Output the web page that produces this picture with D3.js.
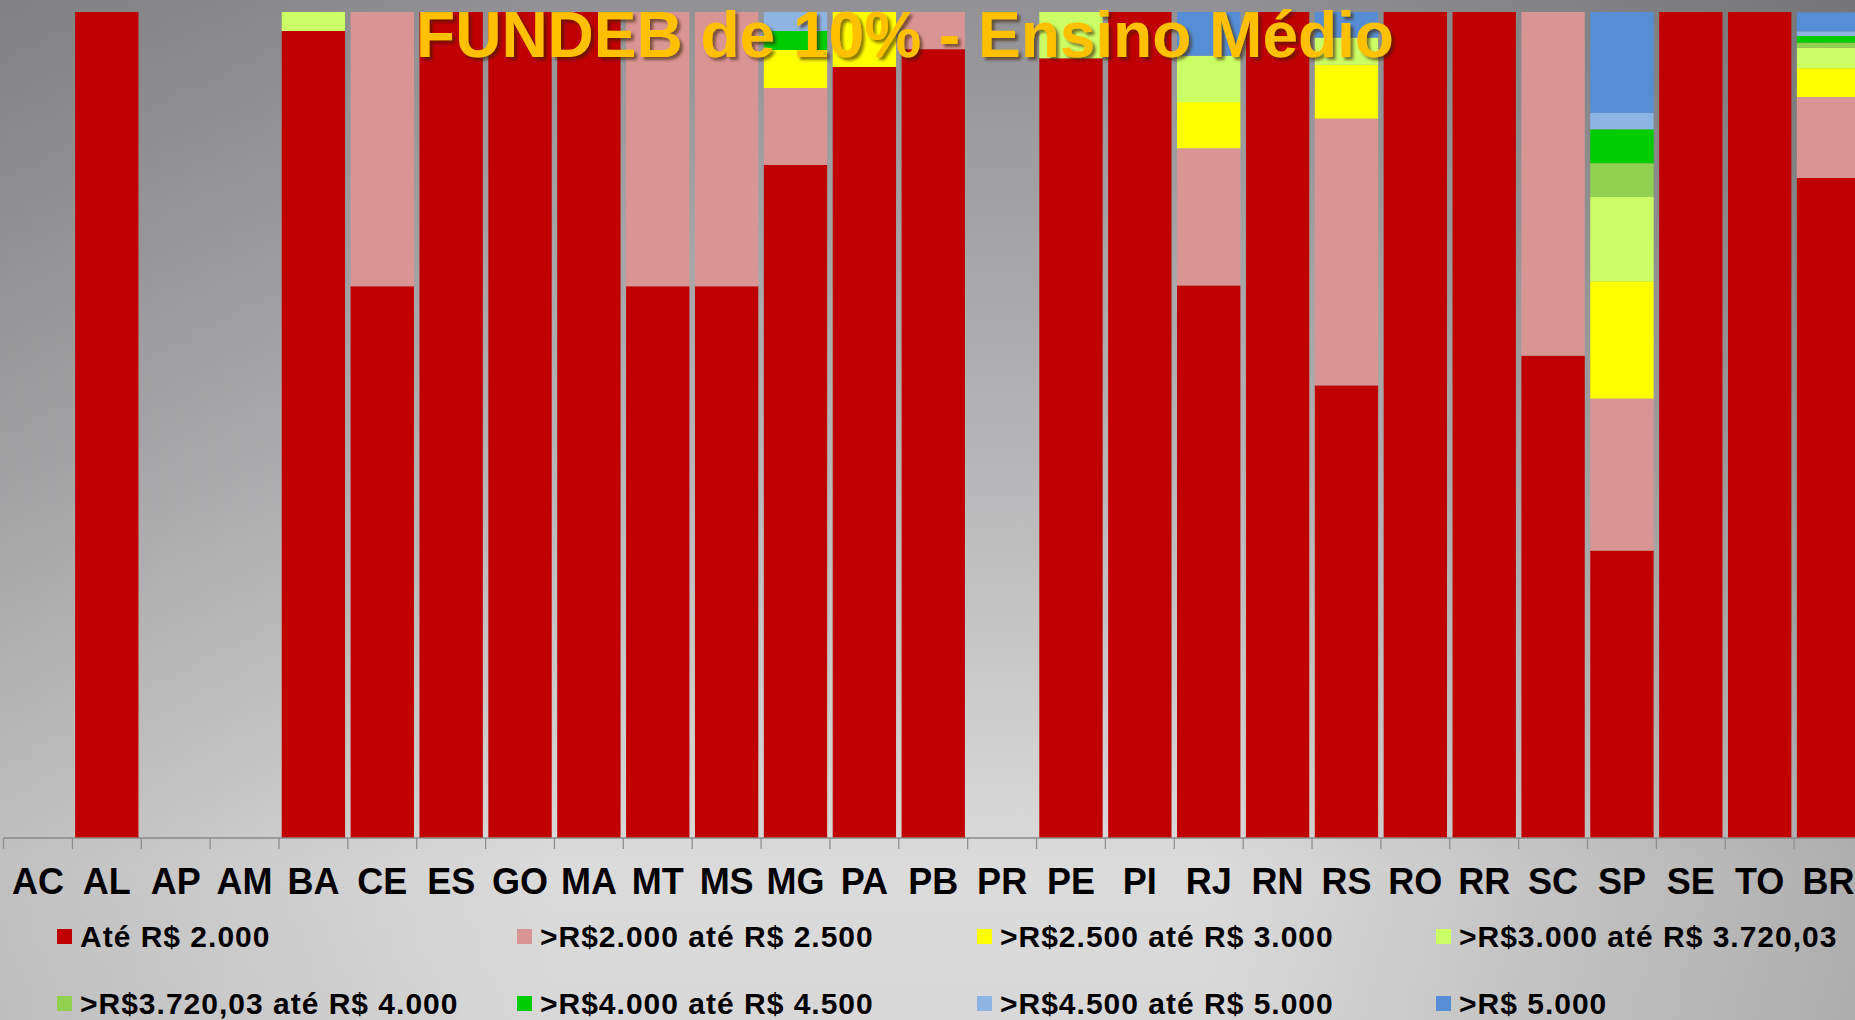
<!DOCTYPE html>
<html>
<head>
<meta charset="utf-8">
<script src="https://cdn.jsdelivr.net/npm/d3@7"></script>
<style>
  html, body { margin: 0; padding: 0; overflow: hidden; }
  body { width: 1855px; height: 1020px; }
  svg { display: block; font-family: "Liberation Sans", Arial, sans-serif; }
</style>
</head>
<body>
<div id="chart"></div>
<script>
// states + Brasil
const categories = ["AC", "AL", "AP", "AM", "BA", "CE", "ES", "GO", "MA", "MT", "MS", "MG", "PA", "PB",
  "PR", "PE", "PI", "RJ", "RN", "RS", "RO", "RR", "SC", "SP", "SE", "TO", "BR"];

// share of each salary band (%)
const ate2000   = [0, 100, 0, 0, 97.7, 66.8, 100, 100, 100, 66.8, 66.8, 81.5, 93.35, 95.5, 0, 94.4, 100, 66.9, 100, 54.8, 100, 100, 58.4, 34.8, 100, 100, 79.9];
const de2000    = [0, 0, 0, 0, 0, 33.2, 0, 0, 0, 33.2, 33.2, 9.3, 0, 4.5, 0, 0, 0, 16.6, 0, 32.3, 0, 0, 41.6, 18.4, 0, 0, 9.8];
const de2500    = [0, 0, 0, 0, 0, 0, 0, 0, 0, 0, 0, 4.6, 6.65, 0, 0, 0, 0, 5.6, 0, 6.5, 0, 0, 0, 14.2, 0, 0, 3.5];
const de3000    = [0, 0, 0, 0, 2.3, 0, 0, 0, 0, 0, 0, 0, 0, 0, 0, 5.6, 0, 5.6, 0, 3.3, 0, 0, 0, 10.2, 0, 0, 2.5];
const de3720    = [0, 0, 0, 0, 0, 0, 0, 0, 0, 0, 0, 0, 0, 0, 0, 0, 0, 0, 0, 0, 0, 0, 0, 4.1, 0, 0, 0.6];
const de4000    = [0, 0, 0, 0, 0, 0, 0, 0, 0, 0, 0, 2.3, 0, 0, 0, 0, 0, 0, 0, 0, 0, 0, 0, 4.1, 0, 0, 0.8];
const de4500    = [0, 0, 0, 0, 0, 0, 0, 0, 0, 0, 0, 2.3, 0, 0, 0, 0, 0, 0, 0, 0, 0, 0, 0, 2.0, 0, 0, 0.56];
const acima5000 = [0, 0, 0, 0, 0, 0, 0, 0, 0, 0, 0, 0, 0, 0, 0, 0, 0, 5.3, 0, 3.1, 0, 0, 0, 12.2, 0, 0, 2.3];

const seriesLabels = ["Até R$ 2.000", ">R$2.000 até R$ 2.500", ">R$2.500 até R$ 3.000", ">R$3.000 até R$ 3.720,03",
  ">R$3.720,03 até R$ 4.000", ">R$4.000 até R$ 4.500", ">R$4.500 até R$ 5.000", ">R$ 5.000"];
const seriesColors = ["#C00000", "#D99594", "#FFFF00", "#CCFF66", "#92D050", "#00CC00", "#8EB4E3", "#558ED5"];
const seriesValues = [ate2000, de2000, de2500, de3000, de3720, de4000, de4500, acima5000];

const width = 1855;
const height = 1020;

const table = categories.map((c, i) => {
  const row = { cat: c };
  seriesValues.forEach((vals, k) => { row["s" + k] = vals[i]; });
  return row;
});
const keys = seriesValues.map((_, k) => "s" + k);
const stacked = d3.stack().keys(keys)(table);

const x = d3.scaleBand()
  .domain(categories)
  .range([3.5, 3.5 + 27 * 68.87])
  .paddingInner(0.08)
  .paddingOuter(0.04);

const y = d3.scaleLinear().domain([0, 100]).range([838, 12]);

const svg = d3.select("#chart").append("svg")
  .attr("width", width)
  .attr("height", height);

// background
const defs = svg.append("defs");
const bgV = defs.append("linearGradient").attr("id", "bgV")
  .attr("x1", 0).attr("y1", 0).attr("x2", 0).attr("y2", 1);
bgV.append("stop").attr("offset", "0%").attr("stop-color", "#929296");
bgV.append("stop").attr("offset", "45%").attr("stop-color", "#b6b6b8");
bgV.append("stop").attr("offset", "85%").attr("stop-color", "#dbdbdb");
bgV.append("stop").attr("offset", "100%").attr("stop-color", "#d8d8d8");
const bgH = defs.append("linearGradient").attr("id", "bgH")
  .attr("x1", 0).attr("y1", 0).attr("x2", 1).attr("y2", 0);
bgH.append("stop").attr("offset", "0%").attr("stop-color", "#000").attr("stop-opacity", 0.12);
bgH.append("stop").attr("offset", "30%").attr("stop-color", "#000").attr("stop-opacity", 0);
bgH.append("stop").attr("offset", "65%").attr("stop-color", "#000").attr("stop-opacity", 0);
bgH.append("stop").attr("offset", "100%").attr("stop-color", "#000").attr("stop-opacity", 0.2);

const shadow = defs.append("filter").attr("id", "shadow")
  .attr("x", "-5%").attr("y", "-20%").attr("width", "110%").attr("height", "150%");
shadow.append("feDropShadow")
  .attr("dx", 3).attr("dy", 3).attr("stdDeviation", 1.5)
  .attr("flood-color", "#3a2000").attr("flood-opacity", 0.6);

svg.append("rect").attr("width", width).attr("height", height).attr("fill", "url(#bgV)");
svg.append("rect").attr("width", width).attr("height", height).attr("fill", "url(#bgH)");

// bars
svg.append("g")
  .selectAll("g")
  .data(stacked)
  .join("g")
  .attr("fill", (d, k) => seriesColors[k])
  .selectAll("rect")
  .data(d => d.filter(s => s[1] - s[0] > 0))
  .join("rect")
  .attr("x", d => x(d.data.cat))
  .attr("width", x.bandwidth())
  .attr("y", d => y(d[1]))
  .attr("height", d => y(d[0]) - y(d[1]));

// axis line + boundary ticks
const step = x.step();
const axisG = svg.append("g").attr("transform", `translate(0,${y(0)})`);
axisG.append("line")
  .attr("x1", x.range()[0]).attr("x2", x.range()[1])
  .attr("stroke", "#8a8a8a").attr("stroke-width", 1.5);
axisG.selectAll("line.tick")
  .data(categories)
  .join("line")
  .attr("class", "tick")
  .attr("x1", d => x(d) - (step - x.bandwidth()) / 2)
  .attr("x2", d => x(d) - (step - x.bandwidth()) / 2)
  .attr("y1", 0).attr("y2", 11)
  .attr("stroke", "#8a8a8a").attr("stroke-width", 1.2);

// category labels
svg.append("g")
  .attr("transform", `translate(0,${y(0)})`)
  .call(d3.axisBottom(x).tickSize(0).tickPadding(30))
  .call(g => g.select(".domain").remove())
  .call(g => g.selectAll("text")
    .attr("y", 56).attr("dy", 0)
    .attr("fill", "#000")
    .style("font-family", "'Liberation Sans', Arial, sans-serif")
    .style("font-weight", "bold")
    .style("font-size", "36px"));

// title
svg.append("text")
  .attr("x", 905)
  .attr("y", 57)
  .attr("text-anchor", "middle")
  .attr("fill", "#FFC000")
  .attr("filter", "url(#shadow)")
  .style("font-weight", "bold")
  .style("font-size", "64px")
  .text("FUNDEB de 10% - Ensino Médio");

// legend
const legendX = [57, 517, 977, 1436];
const legendY = [929, 996];
const legend = svg.append("g")
  .selectAll("g")
  .data(seriesLabels)
  .join("g")
  .attr("transform", (d, i) => `translate(${legendX[i % 4]},${legendY[Math.floor(i / 4)]})`);
legend.append("rect")
  .attr("width", 15).attr("height", 15)
  .attr("fill", (d, i) => seriesColors[i]);
legend.append("text")
  .attr("x", 23)
  .attr("y", 17.5)
  .attr("fill", "#000")
  .style("font-weight", "bold")
  .style("font-size", "30px")
  .style("letter-spacing", "1px")
  .text(d => d);
</script>
</body>
</html>
